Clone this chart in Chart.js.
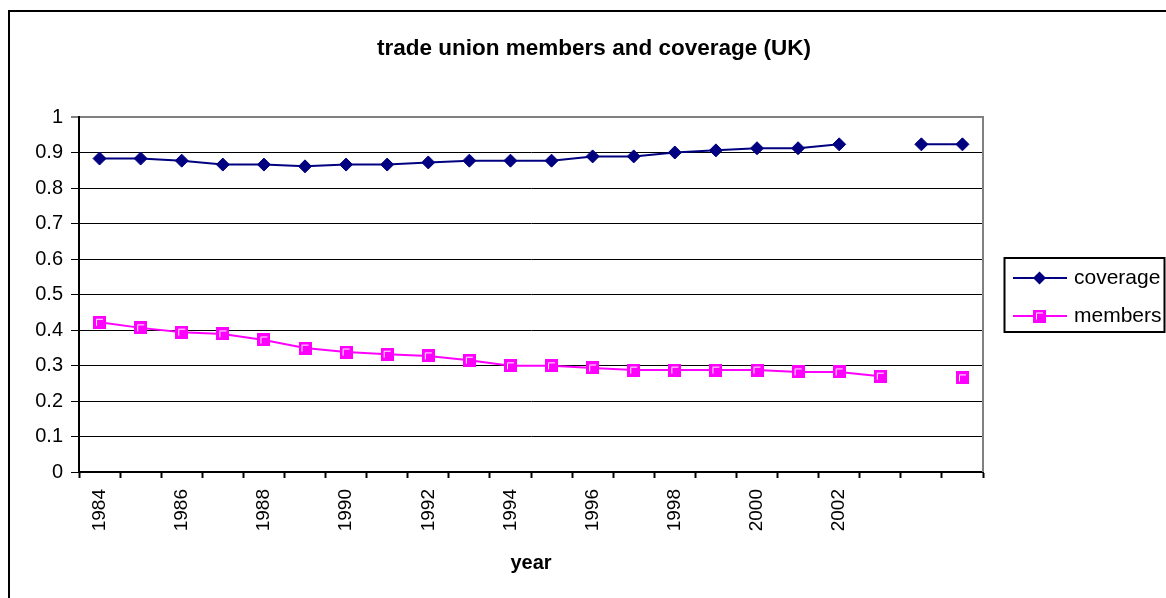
<!DOCTYPE html>
<html>
<head>
<meta charset="utf-8">
<script src="https://cdn.jsdelivr.net/npm/chart.js@4/dist/chart.umd.min.js"></script>
<style>
  html, body { margin: 0; padding: 0; background: #ffffff; }
  #wrap { width: 1166px; height: 598px; }
</style>
</head>
<body>
<div id="wrap"><canvas id="c" width="1166" height="598"></canvas></div>
<script>
// ---- data ----
const years = ['1984','1985','1986','1987','1988','1989','1990','1991','1992','1993','1994',
               '1995','1996','1997','1998','1999','2000','2001','2002','2003','2004','2005'];
const tickLabels = ['1984','','1986','','1988','','1990','','1992','','1994',
                    '','1996','','1998','','2000','','2002','','',''];
const coverage = [0.883,0.883,0.877,0.866,0.866,0.861,0.866,0.866,0.872,0.877,0.877,
                  0.877,0.889,0.889,0.900,0.906,0.912,0.912,0.923,null,0.923,0.923];
const members  = [0.422,0.406,0.394,0.389,0.372,0.349,0.338,0.332,0.327,0.315,0.299,
                  0.299,0.293,0.287,0.287,0.287,0.287,0.282,0.282,0.270,null,0.265];
const titleText = 'trade union members and coverage (UK)';
const xTitle = 'year';

// ---- styles ----
const FONT = "'Liberation Sans', Arial, Helvetica, sans-serif";
const NAVY = '#000080';
const MAGENTA = '#FF00FF';

function makeSquareMarker() {
  const c = document.createElement('canvas');
  c.width = 13; c.height = 13;
  const g = c.getContext('2d');
  g.fillStyle = MAGENTA;
  g.fillRect(0, 0, 13, 13);
  g.strokeStyle = '#ffffff';
  g.lineWidth = 1;
  g.beginPath();
  g.moveTo(3.5, 10); g.lineTo(3.5, 3.5); g.lineTo(10, 3.5);
  g.stroke();
  return c;
}
const squareMarker = makeSquareMarker();

const decorPlugin = {
  id: 'decor',
  beforeDraw(chart) {
    const ctx = chart.ctx;
    ctx.save();
    ctx.fillStyle = '#ffffff';
    ctx.fillRect(0, 0, chart.width, chart.height);
    ctx.restore();
  },
  afterDraw(chart) {
    const ctx = chart.ctx;
    const a = chart.chartArea;
    ctx.save();
    // plot area right border (grey)
    ctx.strokeStyle = '#808080';
    ctx.lineWidth = 2;
    ctx.beginPath();
    ctx.moveTo(a.right, a.top - 1);
    ctx.lineTo(a.right, a.bottom);
    ctx.stroke();
    // outer chart border
    ctx.strokeStyle = '#000000';
    ctx.lineWidth = 2;
    ctx.strokeRect(9, 11, 1400, 800);
    // legend box
    ctx.strokeRect(1004.5, 258, 160, 74);
    const ds = chart.data.datasets;
    const rows = [278, 316];
    ds.forEach((d, i) => {
      const y = rows[i];
      ctx.strokeStyle = d.borderColor;
      ctx.lineWidth = 2;
      ctx.beginPath();
      ctx.moveTo(1013, y);
      ctx.lineTo(1067, y);
      ctx.stroke();
      if (i === 0) {
        ctx.fillStyle = NAVY;
        ctx.beginPath();
        ctx.moveTo(1039.5 - 6.5, y);
        ctx.lineTo(1039.5, y - 6.5);
        ctx.lineTo(1039.5 + 6.5, y);
        ctx.lineTo(1039.5, y + 6.5);
        ctx.closePath();
        ctx.fill();
      } else {
        ctx.drawImage(squareMarker, 1039.5 - 6.5, y - 6.5, 13, 13);
      }
      ctx.fillStyle = '#000000';
      ctx.font = '21px ' + FONT;
      ctx.textBaseline = 'middle';
      ctx.textAlign = 'left';
      ctx.fillText(d.label, 1074, y);
    });
    ctx.restore();
  }
};

new Chart(document.getElementById('c'), {
  type: 'line',
  data: {
    labels: years,
    datasets: [
      {
        label: 'coverage',
        data: coverage,
        borderColor: NAVY,
        backgroundColor: NAVY,
        borderWidth: 2,
        pointStyle: 'rectRot',
        pointRadius: 6.5,
        pointHoverRadius: 6.5,
        pointBorderWidth: 1,
        pointBorderColor: NAVY,
        pointBackgroundColor: NAVY,
        tension: 0,
        spanGaps: false
      },
      {
        label: 'members',
        data: members,
        borderColor: MAGENTA,
        backgroundColor: MAGENTA,
        borderWidth: 2,
        pointStyle: squareMarker,
        pointRadius: 6.5,
        tension: 0,
        spanGaps: false
      }
    ]
  },
  options: {
    responsive: false,
    animation: false,
    events: [],
    layout: { padding: { left: 22, right: 0, top: 0, bottom: 0 } },
    plugins: {
      legend: { display: false },
      tooltip: { enabled: false },
      title: {
        display: true,
        text: titleText,
        color: '#000000',
        font: { family: FONT, size: 22.5, weight: 'bold', lineHeight: 1.2 },
        padding: { top: 35, bottom: 55 }
      }
    },
    scales: {
      x: {
        offset: true,
        grid: {
          display: true,
          offset: true,
          drawOnChartArea: false,
          drawTicks: true,
          tickLength: 6,
          tickWidth: 2,
          tickColor: '#000000',
          color: '#000000'
        },
        border: { display: true, color: '#000000', width: 2 },
        ticks: {
          autoSkip: false,
          minRotation: 90,
          maxRotation: 90,
          padding: 11,
          color: '#000000',
          font: { family: FONT, size: 19 },
          callback: (v, i) => tickLabels[i]
        },
        title: {
          display: true,
          text: xTitle,
          color: '#000000',
          font: { family: FONT, size: 20, weight: 'bold', lineHeight: 1.2 },
          padding: { top: 0, bottom: 23 }
        },
        afterFit: s => { s.height = 126; }
      },
      y: {
        min: 0,
        max: 1,
        ticks: {
          stepSize: 0.1,
          padding: 8,
          color: '#000000',
          font: { family: FONT, size: 20 },
          callback: v => String(Math.round(v * 10) / 10)
        },
        grid: {
          color: c => (c.tick && c.tick.value === 1) ? '#808080' : '#000000',
          lineWidth: c => (c.tick && c.tick.value === 1) ? 2 : 1,
          tickColor: '#000000',
          tickLength: 8,
          tickWidth: 1
        },
        border: { display: true, color: '#000000', width: 2 },
        afterFit: s => { s.width = 57; }
      },
      yRight: {
        position: 'right',
        display: true,
        grid: { display: false },
        ticks: { display: false },
        border: { display: false },
        afterFit: s => { s.width = 183; }
      }
    }
  },
  plugins: [decorPlugin]
});
</script>
</body>
</html>
